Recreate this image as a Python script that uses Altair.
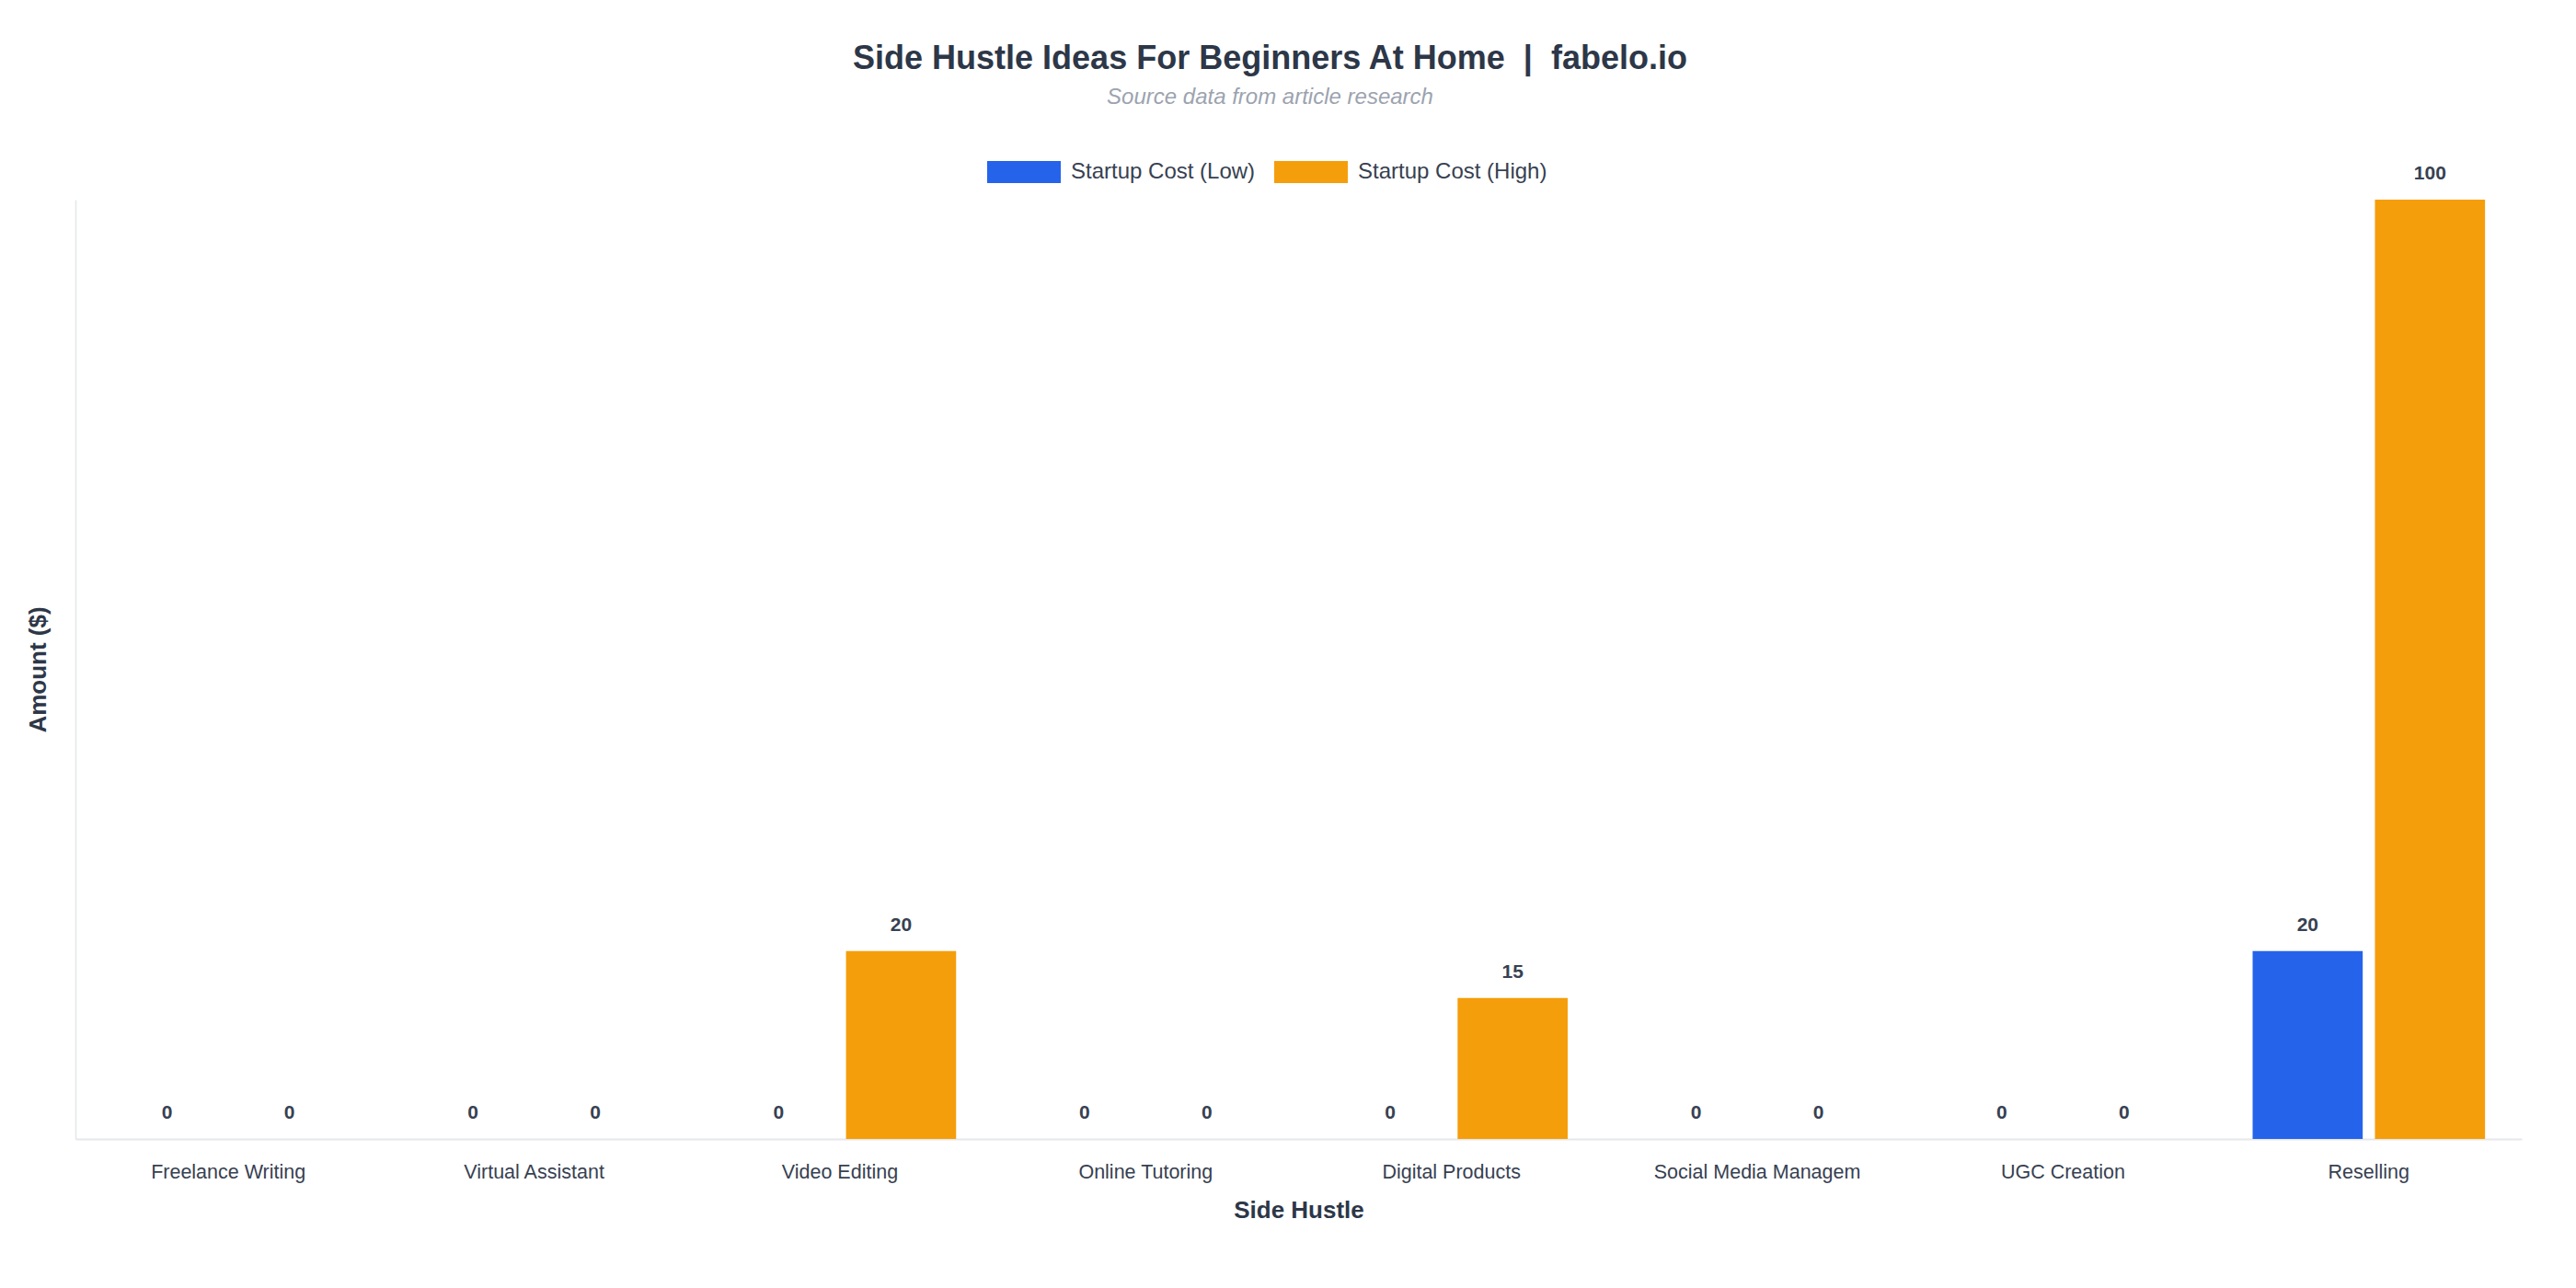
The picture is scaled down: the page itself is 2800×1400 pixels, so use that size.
import altair as alt
import pandas as pd

# --- data ---
hustles = [
    "Freelance Writing", "Virtual Assistant", "Video Editing", "Online Tutoring",
    "Digital Products", "Social Media Managem", "UGC Creation", "Reselling",
]
cost_low = [0, 0, 0, 0, 0, 0, 0, 20]
cost_high = [0, 0, 20, 0, 15, 0, 0, 100]
series = ["Startup Cost (Low)", "Startup Cost (High)"]
colors = ["#2563eb", "#f59e0b"]

rows = []
for i, h in enumerate(hustles):
    rows.append({"hustle": h, "series": series[0], "amount": cost_low[i]})
    rows.append({"hustle": h, "series": series[1], "amount": cost_high[i]})
df = pd.DataFrame(rows)

FONT = "Liberation Sans"
TEXT = "#374151"

x_enc = alt.X("hustle:N", sort=hustles, title="Side Hustle",
              scale=alt.Scale(paddingInner=0.24, paddingOuter=0.12),
              axis=alt.Axis(labelAngle=0, labelFontSize=21.5, labelColor=TEXT, labelFont=FONT,
                            labelPadding=25, ticks=False, tickSize=0,
                            domainColor="#e5e7eb", domainWidth=2,
                            titleFontSize=26, titleFont=FONT, titleFontWeight="bold",
                            titleColor="#2d3748", titlePadding=18, labelLimit=400))
xoff_enc = alt.XOffset("series:N", sort=series,
                       scale=alt.Scale(paddingInner=0.1, paddingOuter=0))
y_enc = alt.Y("amount:Q", title="Amount ($)",
              scale=alt.Scale(domain=[0, 100], nice=False),
              axis=alt.Axis(labels=False, ticks=False, tickSize=0, grid=False,
                            domainColor="#e5e7eb", domainWidth=1.6,
                            titleFontSize=26, titleFont=FONT, titleFontWeight="bold",
                            titleColor="#2d3748", titlePadding=28))

base = alt.Chart(df)

bars = base.mark_bar().encode(
    x=x_enc,
    xOffset=xoff_enc,
    y=y_enc,
    color=alt.Color("series:N", sort=series,
                    scale=alt.Scale(domain=series, range=colors),
                    legend=alt.Legend(title=None, orient="none", direction="horizontal",
                                      legendX=991, legendY=-70, padding=0,
                                      symbolType="M-1,-0.3L1,-0.3L1,0.3L-1,0.3Z",
                                      symbolSize=6400, symbolStrokeWidth=0,
                                      labelFontSize=24, labelFont=FONT, labelColor=TEXT,
                                      labelOffset=11, columnPadding=20, labelLimit=600)),
)

labels = base.mark_text(baseline="alphabetic", dy=-22, fontSize=21, font=FONT,
                        fontWeight="bold", color=TEXT).encode(
    x=alt.X("hustle:N", sort=hustles),
    xOffset=alt.XOffset("series:N", sort=series),
    y="amount:Q",
    text="amount:Q",
)

chart = alt.layer(bars, labels).properties(
    width=2659,
    height=1021,
    padding={"left": 20, "top": 38, "right": 40, "bottom": 40},
    title=alt.TitleParams(
        text="Side Hustle Ideas For Beginners At Home \u00a0|\u00a0 fabelo.io",
        subtitle="Source data from article research",
        anchor="middle", frame="group", dx=-31,
        fontSize=36, font=FONT, fontWeight="bold", color="#2d3748",
        subtitleFontSize=24, subtitleFont=FONT, subtitleFontStyle="italic",
        subtitleColor="#9ca3af", subtitlePadding=11, offset=28,
    ),
).configure(background="white").configure_view(strokeWidth=0)

chart.save("out.html", embed_options={"renderer": "svg", "actions": False})
